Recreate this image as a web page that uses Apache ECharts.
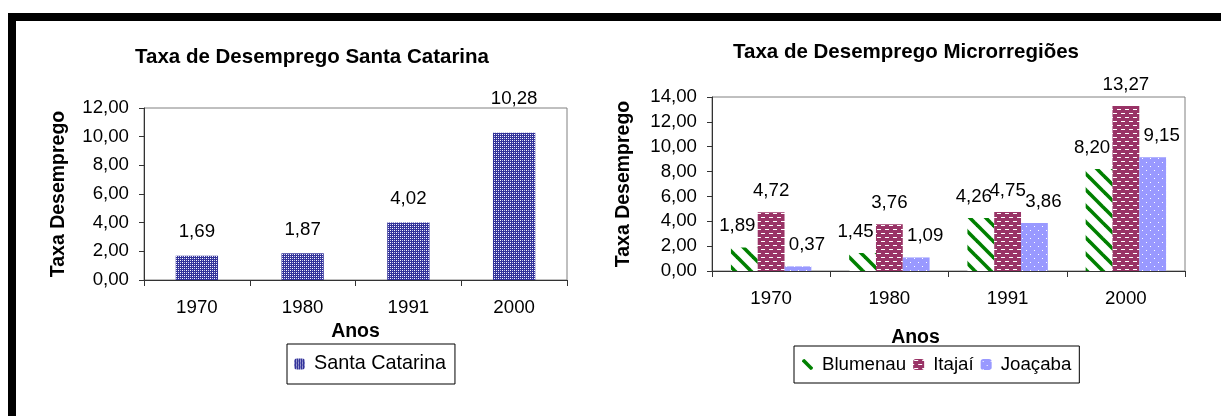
<!DOCTYPE html>
<html>
<head>
<meta charset="utf-8">
<script src="https://cdn.jsdelivr.net/npm/echarts@6/dist/echarts.min.js"></script>
<style>
  html, body { margin: 0; padding: 0; background: #ffffff; }
  #chart { width: 1221px; height: 416px; }
</style>
</head>
<body>
<div id="chart"></div>
<script>
// dados
const anos = ['1970', '1980', '1991', '2000']
const santaCatarina = [1.69, 1.87, 4.02, 10.28]
const blumenau = [1.89, 1.45, 4.26, 8.20]
const itajai = [4.72, 3.76, 4.75, 13.27]
const joacaba = [0.37, 1.09, 3.86, 9.15]
const eixoSC = { min: 0, max: 12, interval: 2 }
const eixoMicro = { min: 0, max: 14, interval: 2 }

const FONT = '"Liberation Sans", Arial, sans-serif'
const fmt = v => Number(v).toFixed(2).replace('.', ',')

// padroes de preenchimento (estilo Excel)
function tile (w, h, draw) {
  const c = document.createElement('canvas')
  c.width = w
  c.height = h
  draw(c.getContext('2d'))
  return { image: c, repeat: 'repeat' }
}
const padraoSC = tile(4, 4, ctx => {
  ctx.fillStyle = '#333399'
  ctx.fillRect(0, 0, 4, 4)
  ctx.fillStyle = '#ffffff'
  ctx.fillRect(0, 0, 1, 1)
  ctx.fillRect(2, 2, 1, 1)
  ctx.fillStyle = '#c4c4f0'
  ctx.fillRect(2, 0, 1, 1)
  ctx.fillRect(0, 2, 1, 1)
})
const padraoBlumenau = tile(16, 16, ctx => {
  ctx.fillStyle = '#ffffff'
  ctx.fillRect(0, 0, 16, 16)
  ctx.strokeStyle = '#008000'
  ctx.lineWidth = 3.6
  for (const d of [-16, 0, 16]) {
    ctx.beginPath()
    ctx.moveTo(d - 2, -2)
    ctx.lineTo(d + 18, 18)
    ctx.stroke()
  }
})
const padraoItajai = tile(8, 8, ctx => {
  ctx.fillStyle = '#993366'
  ctx.fillRect(0, 0, 8, 8)
  ctx.fillStyle = '#ffffff'
  ctx.fillRect(1, 1, 4, 1)
  ctx.fillRect(5, 5, 3, 1)
  ctx.fillRect(0, 5, 1, 1)
})
const padraoJoacaba = tile(8, 8, ctx => {
  ctx.fillStyle = '#9999ff'
  ctx.fillRect(0, 0, 8, 8)
  ctx.fillStyle = '#ffffff'
  ctx.fillRect(2, 2, 1, 1)
  ctx.fillRect(6, 6, 1, 1)
})

const txt = { color: '#000', fontFamily: FONT, fontSize: 18.7 }
const negrito = { color: '#000', fontFamily: FONT, fontWeight: 'bold' }

function eixoX (gridIndex, nameGap, namePad) {
  return {
    type: 'category',
    gridIndex,
    data: anos,
    name: 'Anos',
    nameLocation: 'middle',
    nameGap,
    nameTextStyle: Object.assign({ fontSize: 19.5, padding: namePad }, negrito),
    axisLine: { lineStyle: { color: '#333', width: 1 } },
    axisTick: { show: true, length: 6, lineStyle: { color: '#333' } },
    axisLabel: Object.assign({ margin: 18 }, txt)
  }
}
function eixoY (gridIndex, esc, nameGap) {
  return {
    type: 'value',
    gridIndex,
    min: esc.min,
    max: esc.max,
    interval: esc.interval,
    name: 'Taxa Desemprego',
    nameLocation: 'middle',
    nameGap,
    nameTextStyle: Object.assign({ fontSize: 19.5 }, negrito),
    axisLine: { show: true, lineStyle: { color: '#333', width: 1 } },
    axisTick: { show: true, length: 5, lineStyle: { color: '#333' } },
    splitLine: { show: false },
    axisLabel: Object.assign({ margin: 15, formatter: fmt }, txt)
  }
}
function rotulo (distance, offset) {
  return Object.assign({ show: true, position: 'top', distance, offset, formatter: p => fmt(p.value) }, txt)
}

const chart = echarts.init(document.getElementById('chart'), null, { renderer: 'canvas' })
chart.setOption({
  animation: false,
  backgroundColor: '#ffffff',
  graphic: [
    { type: 'rect', shape: { x: 8, y: 13, width: 1213, height: 8 }, style: { fill: '#000' } },
    { type: 'rect', shape: { x: 8, y: 13, width: 8, height: 403 }, style: { fill: '#000' } }
  ],
  title: [
    {
      text: 'Taxa de Desemprego Santa Catarina',
      left: 312, top: 47, textAlign: 'center', padding: 0,
      textStyle: Object.assign({ fontSize: 20.5 }, negrito)
    },
    {
      text: 'Taxa de Desemprego Microrregiões',
      left: 906, top: 42, textAlign: 'center', padding: 0,
      textStyle: Object.assign({ fontSize: 20.5 }, negrito)
    }
  ],
  grid: [
    { left: 144, top: 108, width: 423, height: 172, show: true, borderColor: '#808080', borderWidth: 1 },
    { left: 712, top: 97, width: 473, height: 174, show: true, borderColor: '#808080', borderWidth: 1 }
  ],
  legend: [
    {
      data: ['Santa Catarina'],
      left: 287, top: 344,
      padding: [10, 9, 10, 7],
      itemWidth: 11, itemHeight: 11,
      borderColor: '#000', borderWidth: 1,
      textStyle: Object.assign({ padding: [0, 0, 0, 4] }, txt, { fontSize: 19.8 })
    },
    {
      data: ['Blumenau', 'Itajaí', 'Joaçaba'],
      left: 794, top: 346,
      padding: [9, 8, 9, 8],
      itemWidth: 11, itemHeight: 11, itemGap: 7,
      borderColor: '#000', borderWidth: 1,
      textStyle: Object.assign({ padding: [0, 0, 0, 4] }, txt)
    }
  ],
  xAxis: [eixoX(0, 42, 0), eixoX(1, 57, [0, 66, 0, 0])],
  yAxis: [eixoY(0, eixoSC, 75), eixoY(1, eixoMicro, 78)],
  series: [
    {
      name: 'Santa Catarina', type: 'bar', xAxisIndex: 0, yAxisIndex: 0,
      barCategoryGap: '60%',
      itemStyle: { color: padraoSC },
      label: rotulo(14, [0, 0]),
      data: santaCatarina.map((v, i) => i === 3 ? { value: v, label: { distance: 24 } } : v)
    },
    {
      name: 'Blumenau', type: 'bar', xAxisIndex: 1, yAxisIndex: 1,
      barGap: '0%', barCategoryGap: '32%',
      itemStyle: { color: padraoBlumenau },
      label: rotulo(12, [-7, 0]),
      data: blumenau
    },
    {
      name: 'Itajaí', type: 'bar', xAxisIndex: 1, yAxisIndex: 1,
      barGap: '0%', barCategoryGap: '32%',
      itemStyle: { color: padraoItajai },
      label: rotulo(12, [0, 0]),
      data: itajai
    },
    {
      name: 'Joaçaba', type: 'bar', xAxisIndex: 1, yAxisIndex: 1,
      barGap: '0%', barCategoryGap: '32%',
      itemStyle: { color: padraoJoacaba },
      label: rotulo(12, [9, 0]),
      data: joacaba
    }
  ]
})
</script>
</body>
</html>
